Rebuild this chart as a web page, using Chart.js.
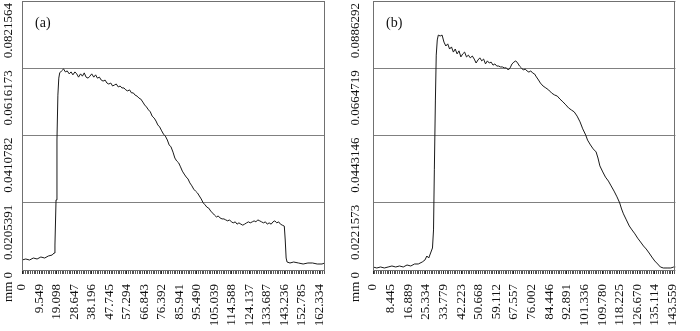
<!DOCTYPE html>
<html lang="en">
<head>
<meta charset="UTF-8" />
<title>Profiles (a) and (b)</title>
<script src="https://cdn.jsdelivr.net/npm/chart.js"></script>
<style>
  body { margin: 0; background: #fff; width: 700px; height: 331px; overflow: hidden; position: relative; }
  .panel { position: absolute; top: 0; }
  #chartA { left: 0; }
  #chartB { left: 350px; }
</style>
</head>
<body>
<canvas id="chartA" class="panel" width="350" height="331"></canvas>
<canvas id="chartB" class="panel" width="350" height="331"></canvas>
<script>
// ---- panel (a) ----
var xLabelsA = ["0", "9.549", "19.098", "28.647", "38.196", "47.745", "57.294", "66.843", "76.392",
  "85.941", "95.490", "105.039", "114.588", "124.137", "133.687", "143.236", "152.785", "162.334"];
var yTicksA = [0, 0.0205391, 0.0410782, 0.0616173, 0.0821564];
var yLabelsA = ["mm 0", "0.0205391", "0.0410782", "0.0616173", "0.0821564"];
var xMaxA = 165.4;

var xA = [
  0, 2.06, 4.12, 6.18, 8.25, 10.3, 12.4, 14.4, 16.5, 17.5,
  18.0, 18.6, 19.1, 19.6, 20.1, 20.6, 21.6,
  22.7, 23.7, 24.7, 25.8, 26.8, 27.8, 28.9, 29.9, 30.9, 32.0,
  33.0, 34.0, 35.0, 36.1, 37.1, 38.1, 39.2, 40.2, 41.2, 42.3,
  43.3, 44.3, 45.4, 46.4, 47.4, 48.5, 49.5, 50.5, 51.5, 52.6,
  53.6, 54.6, 55.7, 56.7, 57.7, 58.8, 59.8, 60.8, 61.8, 62.9,
  63.9, 64.9, 66.0, 67.0, 68.0, 69.1, 70.1, 71.1, 72.2, 73.2,
  74.2, 75.2, 76.3, 77.3, 78.3, 79.4, 80.4, 81.4, 82.5, 83.5,
  84.5, 85.6, 86.6, 87.6, 88.6, 89.7, 90.7, 91.7, 92.8, 93.8,
  94.8, 95.9, 96.9, 97.9, 99.0, 100.0, 101.0, 102.0, 103.1, 104.1,
  105.1, 106.2, 107.2, 108.2, 109.3, 110.3, 111.3, 112.4, 113.4, 114.4,
  115.4, 116.5, 117.5, 118.5, 119.6, 120.6, 121.6, 122.7, 123.7, 124.7,
  125.8, 126.8, 127.8, 128.8, 129.9, 130.9, 131.9, 133.0, 134.0, 135.0,
  136.1, 137.1, 138.1, 139.2, 140.2, 141.2, 142.2, 143.3,
  143.8, 144.3, 144.8, 146.4, 148.4, 151.0, 153.6, 156.2, 158.7, 161.3, 163.9, 165.4
];
var yA = [
  0.00305, 0.00336, 0.00305, 0.00366, 0.00336, 0.00397, 0.00366, 0.00428, 0.00458, 0.00519,
  0.00763, 0.0214, 0.0397, 0.0534, 0.0586, 0.0602, 0.0608,
  0.0614, 0.0605, 0.0608, 0.0599, 0.0605, 0.0596, 0.0605, 0.0599, 0.0589, 0.0599,
  0.0592, 0.0602, 0.0589, 0.0586, 0.0592, 0.0599, 0.0589, 0.0596, 0.0586, 0.0589,
  0.0580, 0.0577, 0.0580, 0.0571, 0.0568, 0.0571, 0.0562, 0.0565, 0.0568, 0.0559,
  0.0562, 0.0556, 0.0556, 0.0550, 0.0547, 0.0550, 0.0541, 0.0541, 0.0534, 0.0531,
  0.0525, 0.0522, 0.0513, 0.0504, 0.0498, 0.0489, 0.0483, 0.0470, 0.0464, 0.0455,
  0.0443, 0.0437, 0.0425, 0.0415, 0.0409, 0.0397, 0.0382, 0.0376, 0.0360, 0.0342,
  0.0333, 0.0327, 0.0315, 0.0302, 0.0293, 0.0284, 0.0278, 0.0266, 0.0257, 0.0247,
  0.0241, 0.0235, 0.0226, 0.0217, 0.0205, 0.0199, 0.0192, 0.0189, 0.0180, 0.0174,
  0.0168, 0.0162, 0.0165, 0.0159, 0.0156, 0.0156, 0.0153, 0.0150, 0.0153, 0.0147,
  0.0144, 0.0147, 0.0140, 0.0144, 0.0140, 0.0137, 0.0140, 0.0144, 0.0147, 0.0144,
  0.0147, 0.0150, 0.0147, 0.0153, 0.0150, 0.0147, 0.0144, 0.0147, 0.0140, 0.0144,
  0.0140, 0.0147, 0.0150, 0.0144, 0.0147, 0.0140, 0.0137, 0.0134,
  0.00916, 0.00366, 0.00244, 0.00214, 0.00244, 0.00214, 0.00183, 0.00214, 0.00214, 0.00183, 0.00183, 0.00214
];

// ---- panel (b) ----
var xLabelsB = ["0", "8.445", "16.889", "25.334", "33.779", "42.223", "50.668", "59.112", "67.557",
  "76.002", "84.446", "92.891", "101.336", "109.780", "118.225", "126.670", "135.114", "143.559"];
var yTicksB = [0, 0.0221573, 0.0443146, 0.0664719, 0.0886292];
var yLabelsB = ["mm 0", "0.0221573", "0.0443146", "0.0664719", "0.0886292"];
var xMaxB = 144.9;

var xB = [
  0, 1.81, 3.62, 5.43, 7.25, 9.06, 10.9, 12.7, 14.5, 16.3, 18.1, 19.9, 21.7, 23.6,
  24.9, 25.8, 26.7, 27.6, 28.5, 29.0, 29.4, 29.9, 30.3, 30.8, 31.3,
  32.2, 33.1, 34.0, 34.9, 35.8, 36.7, 37.6, 38.5, 39.4, 40.3,
  41.2, 42.1, 43.0, 43.9, 44.8, 45.7, 46.6, 47.6, 48.5, 49.4,
  50.3, 51.2, 52.1, 53.0, 53.9, 54.8, 55.7, 56.6, 57.5, 58.4,
  59.3, 60.2, 61.1, 62.0, 62.9, 63.9, 64.8, 65.7, 66.6, 67.5,
  68.4, 69.3, 70.2, 71.1, 72.0, 72.9, 73.8, 74.7, 75.6, 76.5,
  77.4, 78.3, 79.3, 80.2,
  81.5, 82.8, 84.2, 85.6, 86.9, 88.3, 89.6, 91.0, 92.4, 93.7, 95.1, 96.4, 97.8, 99.2, 100.5, 101.9,
  102.8, 104.2, 105.5, 106.9, 107.8, 108.7, 110.1, 111.4, 112.8, 114.1,
  115.5, 116.9, 118.2, 119.1, 120.0, 121.4, 122.8, 124.1, 125.5, 126.8,
  128.2, 129.6, 130.9, 132.3, 133.6, 135.0, 136.4, 137.7, 139.1, 140.9,
  142.7, 144.1, 145.0
];
var yB = [
  0.00099, 0.00066, 0.00099, 0.00066, 0.00099, 0.00132, 0.00099, 0.00132, 0.00099, 0.00165, 0.00132, 0.00198, 0.00198, 0.00264,
  0.00330, 0.00461, 0.00395, 0.00560, 0.00725, 0.0132, 0.0330, 0.0560, 0.0708, 0.0758, 0.0774,
  0.0771, 0.0774, 0.0751, 0.0738, 0.0745, 0.0728, 0.0735, 0.0718, 0.0728, 0.0712,
  0.0722, 0.0702, 0.0712, 0.0718, 0.0702, 0.0708, 0.0699, 0.0705, 0.0695, 0.0682,
  0.0692, 0.0699, 0.0689, 0.0695, 0.0679, 0.0689, 0.0682, 0.0685, 0.0675, 0.0679,
  0.0672, 0.0672, 0.0669, 0.0669, 0.0666, 0.0666, 0.0659, 0.0666, 0.0679, 0.0685,
  0.0689, 0.0682, 0.0672, 0.0666, 0.0659, 0.0662, 0.0656, 0.0652, 0.0656, 0.0649,
  0.0646, 0.0636, 0.0626, 0.0616,
  0.0606, 0.0600, 0.0593, 0.0583, 0.0577, 0.0573, 0.0563, 0.0554, 0.0544, 0.0534, 0.0527, 0.0521, 0.0507, 0.0488, 0.0465, 0.0445,
  0.0428, 0.0412, 0.0399, 0.0389, 0.0369, 0.0343, 0.0323, 0.0306, 0.0293, 0.0277,
  0.0260, 0.0241, 0.0221, 0.0201, 0.0185, 0.0165, 0.0145, 0.0132, 0.0119, 0.0105,
  0.00923, 0.00791, 0.00692, 0.00560, 0.00428, 0.00297, 0.00198, 0.00099, 0.00066, 0.00066,
  0.00066, 0.00099, 0.00099
];

var serif = '"Liberation Serif", "Times New Roman", serif';

// frame, rotated y labels and the panel tag
var panelDecor = {
  id: "panelDecor",
  afterDraw: function (chart, args, o) {
    var ctx = chart.ctx, area = chart.chartArea, ys = chart.scales.y;
    ctx.save();
    ctx.strokeStyle = "#707070";
    ctx.lineWidth = 1;
    ctx.strokeRect(Math.round(area.left) + 0.5, Math.round(area.top) + 0.5,
      Math.round(area.width) - 1, Math.round(area.height));
    ctx.fillStyle = "#111";
    ctx.font = "13px " + serif;
    ctx.textAlign = "right";
    ctx.textBaseline = "middle";
    o.ticks.forEach(function (v, i) {
      ctx.save();
      ctx.translate(o.labelX, ys.getPixelForValue(v) + 2);
      ctx.rotate(-Math.PI / 2);
      ctx.fillText(o.labels[i], 0, 0);
      ctx.restore();
    });
    ctx.font = "14px " + serif;
    ctx.textAlign = "left";
    ctx.fillText(o.tag, area.left + 13, 23);
    ctx.restore();
  }
};

function makePanel(id, xs, ys, xLabels, xMax, yTicks, yLabels, tag, leftW, labelX) {
  var xVals = xLabels.map(parseFloat);
  var step = xVals[1] - xVals[0];
  var sub = 10;
  return new Chart(document.getElementById(id), {
    type: "line",
    data: {
      datasets: [{
        data: xs.map(function (x, i) { return { x: x, y: ys[i] }; }),
        borderColor: "#1a1a1a",
        borderWidth: 1,
        pointRadius: 0,
        tension: 0,
        fill: false
      }]
    },
    plugins: [panelDecor],
    options: {
      responsive: false,
      animation: false,
      events: [],
      layout: { padding: { top: 1, right: 7, left: 0, bottom: 0 } },
      plugins: {
        legend: { display: false },
        tooltip: { enabled: false },
        panelDecor: { ticks: yTicks, labels: yLabels, tag: tag, labelX: labelX }
      },
      scales: {
        x: {
          type: "linear",
          min: 0,
          max: xMax,
          afterBuildTicks: function (scale) {
            var t = [];
            for (var k = 0; k < xVals.length; k++) {
              t.push({ value: xVals[k], txt: xLabels[k] });
              for (var j = 1; j < sub; j++) {
                var v = xVals[k] + j * step / sub;
                if (v <= xMax) t.push({ value: v, txt: "" });
              }
            }
            scale.ticks = t;
          },
          afterFit: function (scale) { scale.height = 61; },
          ticks: {
            autoSkip: false,
            minRotation: 90,
            maxRotation: 90,
            padding: 10,
            color: "#111",
            font: { family: serif, size: 13 },
            callback: function (v, i, ticks) { return ticks[i].txt; }
          },
          grid: {
            drawOnChartArea: false,
            drawTicks: true,
            tickLength: 4,
            tickColor: function (c) { return c.tick && c.tick.txt ? "#222" : "#555"; }
          },
          border: { display: false }
        },
        y: {
          min: 0,
          max: yTicks[yTicks.length - 1],
          afterBuildTicks: function (scale) {
            scale.ticks = yTicks.map(function (v) { return { value: v }; });
          },
          afterFit: function (scale) { scale.width = leftW; },
          ticks: { display: false },
          grid: { color: "#808080", drawTicks: false },
          border: { display: false }
        }
      }
    }
  });
}

makePanel("chartA", xA, yA, xLabelsA, xMaxA, yTicksA, yLabelsA, "(a)", 22, 9);
makePanel("chartB", xB, yB, xLabelsB, xMaxB, yTicksB, yLabelsB, "(b)", 23, 6);
</script>
</body>
</html>
